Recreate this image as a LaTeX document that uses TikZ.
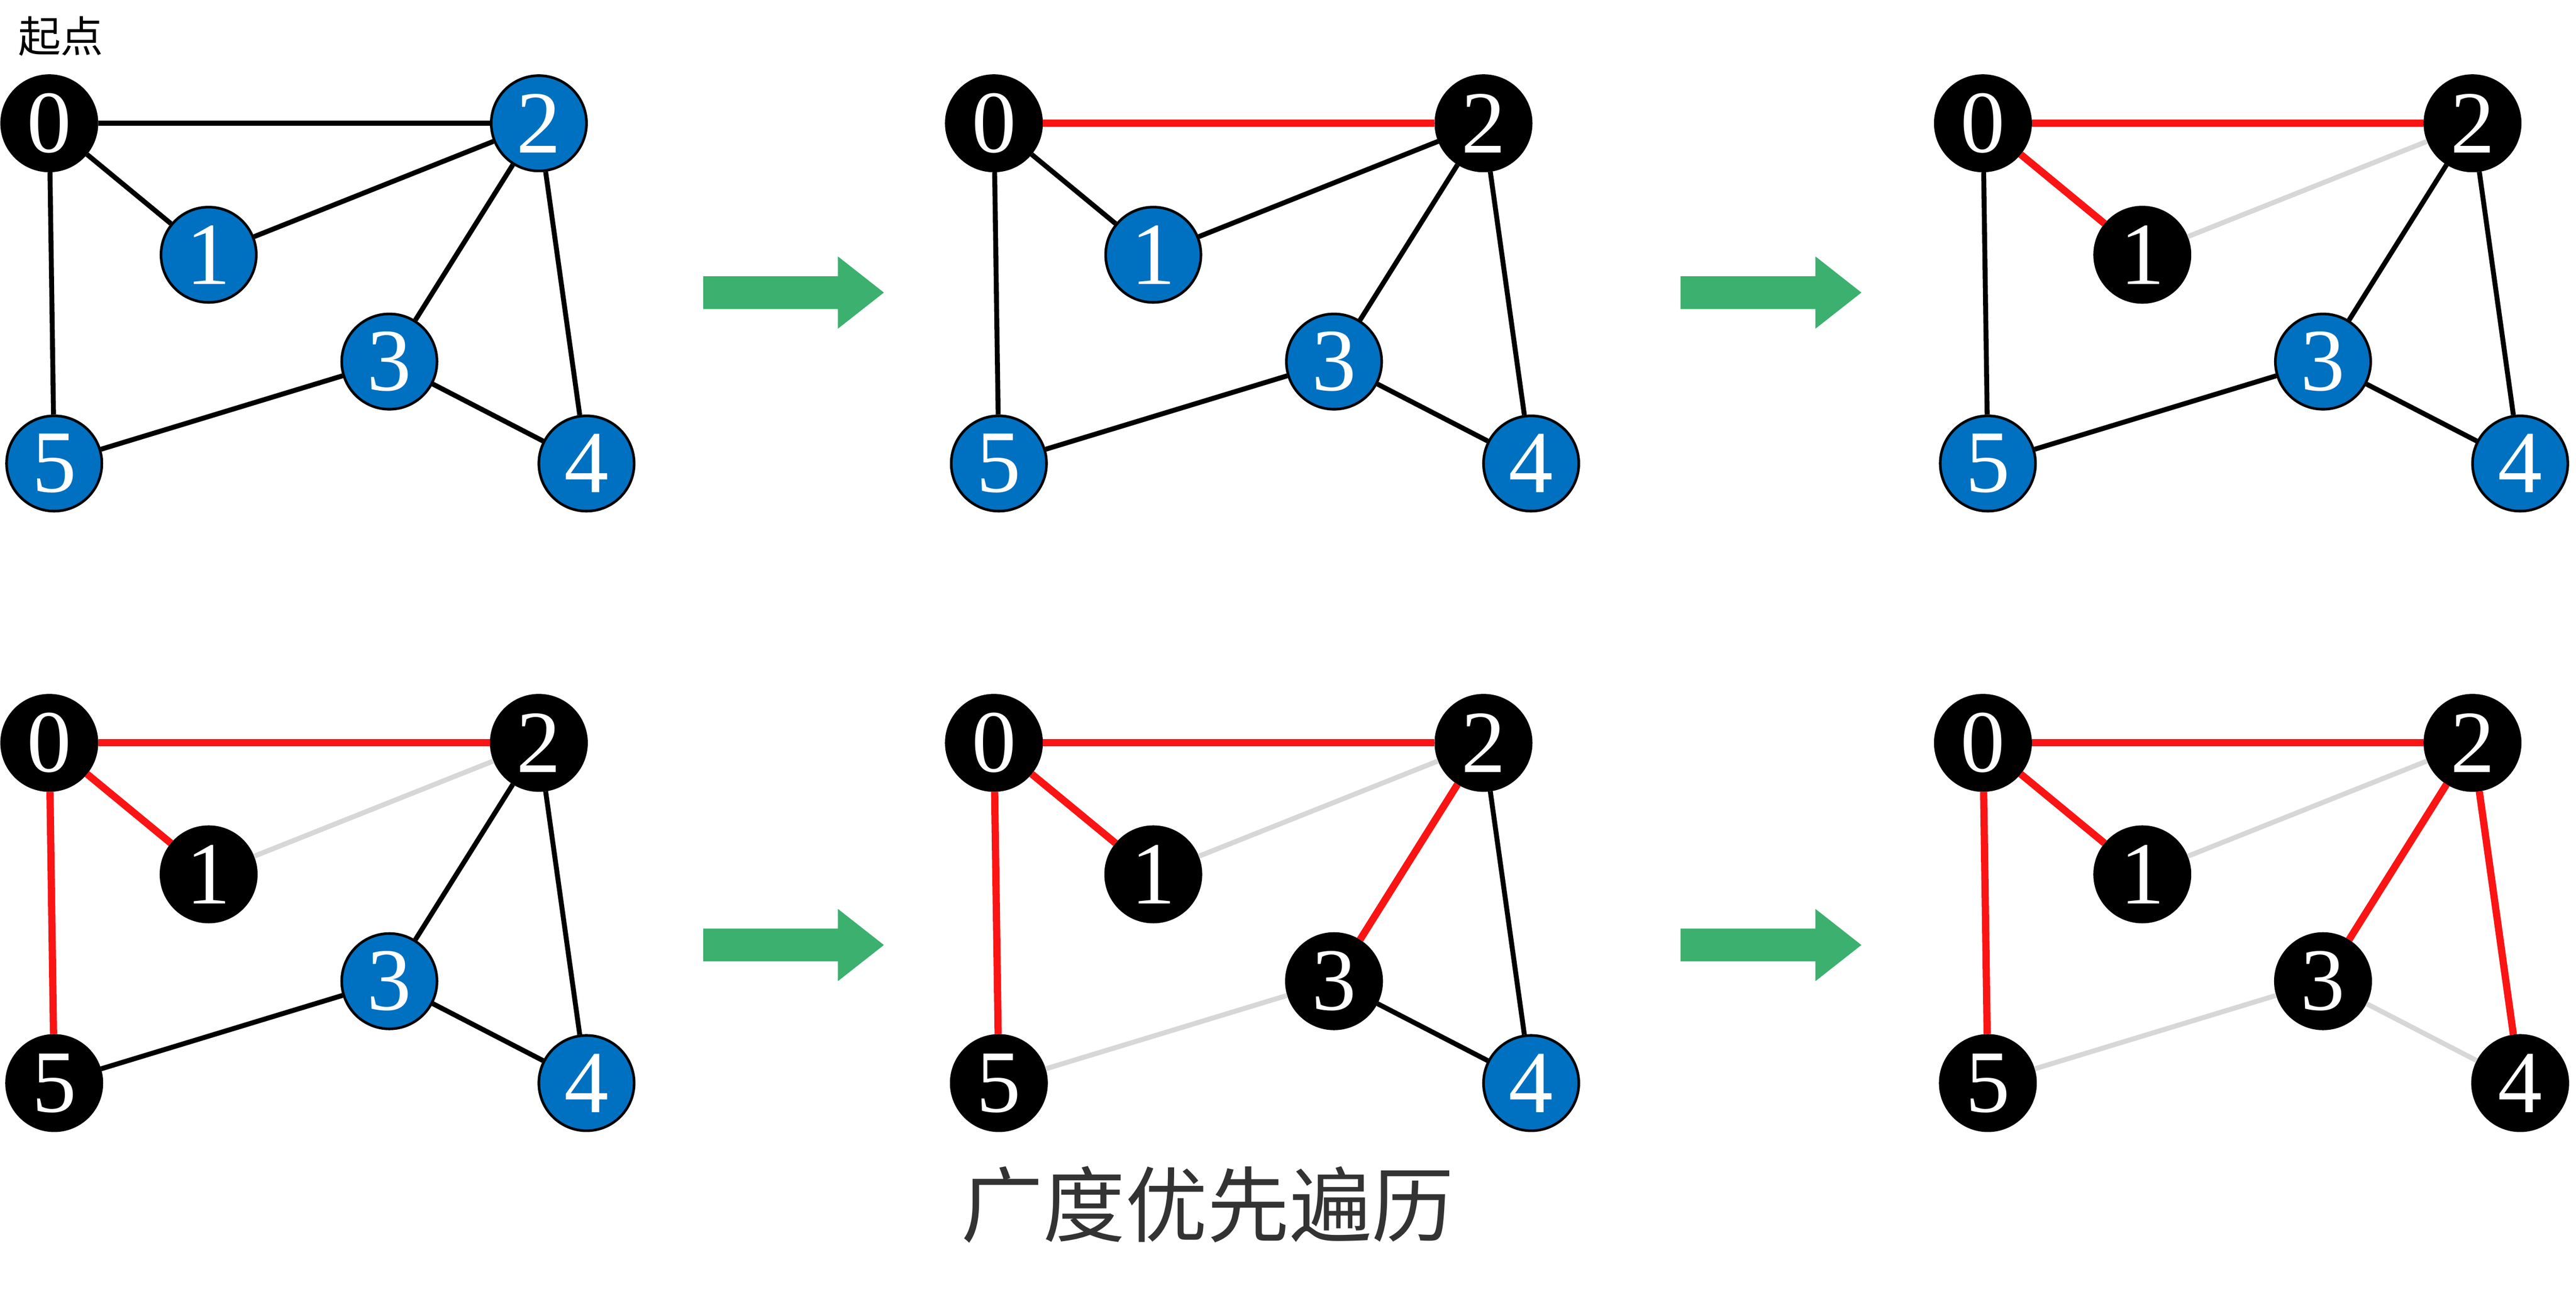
\documentclass[tikz,border=0pt]{standalone}
\usepackage{fontspec}
\setmainfont{Liberation Serif}
\newfontfamily\cjk{Noto Sans CJK SC}
\definecolor{nodeblue}{RGB}{0,112,192}
\definecolor{arrowgreen}{RGB}{60,176,110}
\definecolor{edgegray}{RGB}{215,215,215}
\definecolor{edgered}{RGB}{250,20,20}
\tikzset{
  vnode/.style={circle, draw=black, line width=0.8pt, minimum size=29pt, inner sep=0pt,
    fill=nodeblue, text=white, font=\fontsize{27}{27}\selectfont},
  visited/.style={fill=black},
  plain/.style={line width=1.5pt, black},
  tree/.style={line width=2.2pt, edgered},
  dropped/.style={line width=1.5pt, edgegray},
  n0/.style={}, n1/.style={}, n2/.style={}, n3/.style={}, n4/.style={}, n5/.style={},
  e02/.style={plain}, e01/.style={plain}, e12/.style={plain}, e05/.style={plain},
  e23/.style={plain}, e24/.style={plain}, e35/.style={plain}, e34/.style={plain},
  step arrow/.style={fill=arrowgreen, draw=none}
}
% one graph panel; #1 = shift, #2 = name prefix, #3 = state styles
\newcommand\graphpanel[3]{%
  \begin{scope}[shift={(#1)}, #3]
    \foreach \n/\px/\py in {0/30/75, 1/127/155, 2/328/75, 3/237/220, 4/357/282, 5/33/282}
      \node[vnode, n\n] (#2\n) at (\px,\py) {\n};
    \foreach \a/\b in {0/2, 0/1, 1/2, 0/5, 2/3, 2/4, 3/5, 3/4}
      \draw[e\a\b] (#2\a) -- (#2\b);
  \end{scope}}
\newcommand\steparrow[1]{%
  \fill[step arrow, shift={(#1)}] (0,-10) -- (82,-10) -- (82,-22) -- (110,0)
    -- (82,22) -- (82,10) -- (0,10) -- cycle;}
\begin{document}
\begin{tikzpicture}[x=0.5pt, y=-0.5pt]
  \useasboundingbox (0,0) rectangle (1568,784);

  % top row
  \graphpanel{0,0}{a}{n0/.style={visited}}
  \graphpanel{575,0}{b}{n0/.style={visited}, n2/.style={visited}, e02/.style={tree}}
  \graphpanel{1177,0}{c}{n0/.style={visited}, n1/.style={visited}, n2/.style={visited},
    e02/.style={tree}, e01/.style={tree}, e12/.style={dropped}}

  % bottom row
  \graphpanel{0,377}{d}{n0/.style={visited}, n1/.style={visited}, n2/.style={visited},
    n5/.style={visited}, e02/.style={tree}, e01/.style={tree}, e12/.style={dropped},
    e05/.style={tree}}
  \graphpanel{575,377}{e}{n0/.style={visited}, n1/.style={visited}, n2/.style={visited},
    n3/.style={visited}, n5/.style={visited}, e02/.style={tree}, e01/.style={tree},
    e12/.style={dropped}, e05/.style={tree}, e23/.style={tree}, e35/.style={dropped}}
  \graphpanel{1177,377}{f}{n0/.style={visited}, n1/.style={visited}, n2/.style={visited},
    n3/.style={visited}, n4/.style={visited}, n5/.style={visited}, e02/.style={tree},
    e01/.style={tree}, e12/.style={dropped}, e05/.style={tree}, e23/.style={tree},
    e35/.style={dropped}, e24/.style={tree}, e34/.style={dropped}}

  % arrows between panels
  \steparrow{428,178}
  \steparrow{1023,178}
  \steparrow{428,575}
  \steparrow{1023,575}

  % labels
  \node[font=\cjk\fontsize{13}{13}\selectfont] (start) at (37,22) {起点};
  \node[font=\cjk\fontsize{25}{25}\selectfont, text=black!80] (title) at (735,733) {广度优先遍历};
\end{tikzpicture}
\end{document}
